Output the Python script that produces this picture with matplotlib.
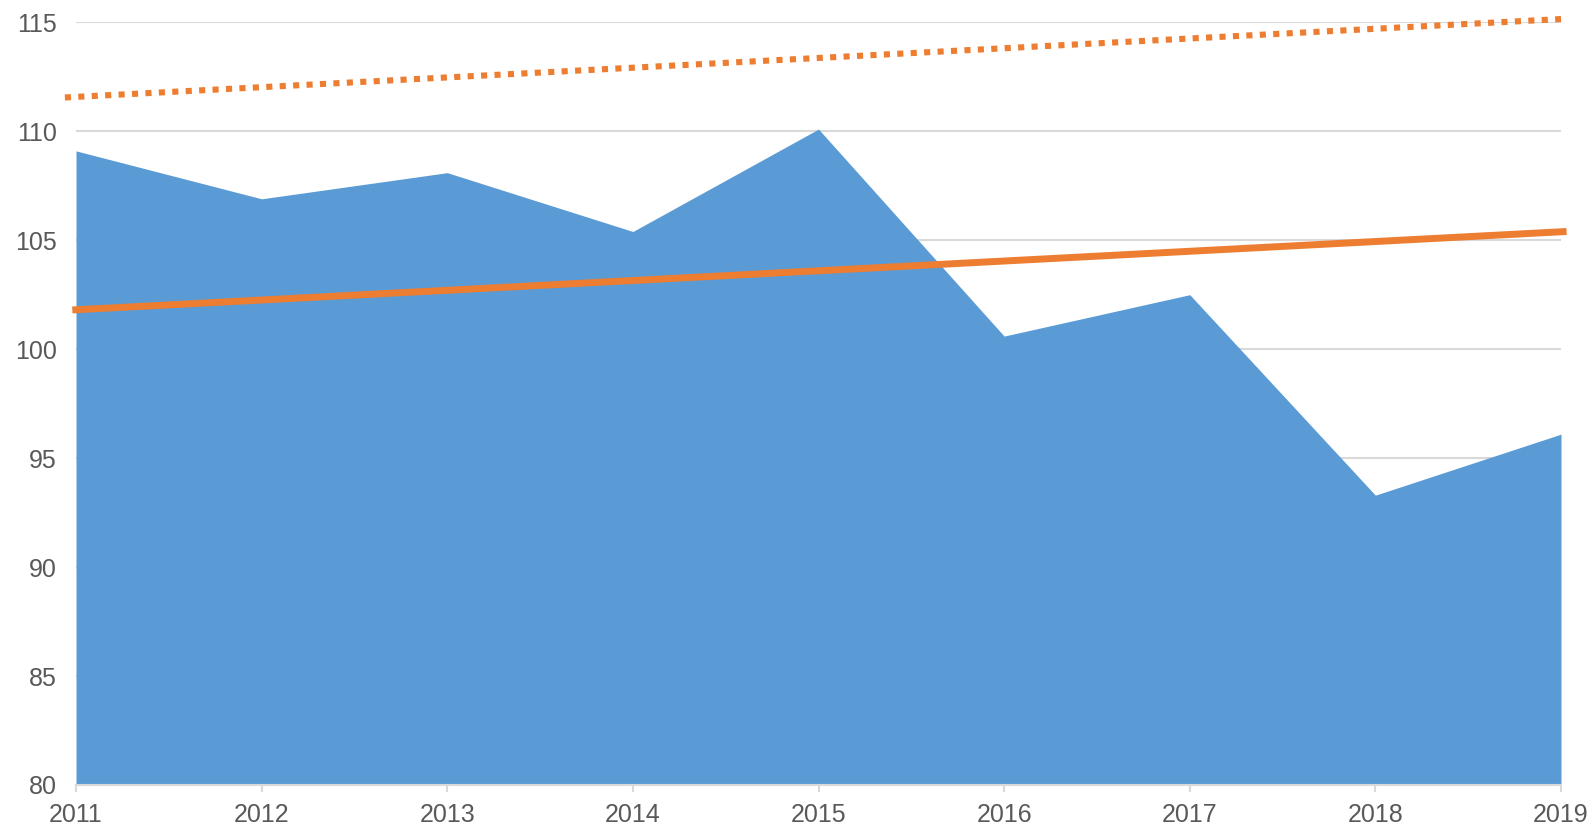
import matplotlib
matplotlib.use("Agg")
import matplotlib.pyplot as plt

years = [2011, 2012, 2013, 2014, 2015, 2016, 2017, 2018, 2019]
values = [109.1, 106.9, 108.1, 105.4, 110.1, 100.6, 102.5, 93.3, 96.1]

trend_x = [2010.98, 2019.03]
trend_y = [101.8, 105.4]
upper_x = [2010.94, 2019.0]
upper_y = [111.55, 115.15]

yticks = [80, 85, 90, 95, 100, 105, 110, 115]

plt.rcParams['font.family'] = ['Liberation Sans', 'DejaVu Sans']

fig = plt.figure(figsize=(15.93, 8.27), dpi=100)
ax = fig.add_axes([76/1593, 1-785/827, (1561-76)/1593, (785-22.3)/827])

blue = '#5b9bd5'
orange = '#ed7d31'
grid = '#d9d9d9'
txt = '#595959'

ax.fill_between(years, values, 80, color=blue, linewidth=0, zorder=2)
ax.plot(trend_x, trend_y, color=orange, linewidth=5, solid_capstyle='butt', zorder=3, clip_on=False)
ax.plot(upper_x, upper_y, color=orange, linewidth=4.4, linestyle=(0, (1, 1.2)),
        dash_capstyle='butt', zorder=3, clip_on=False)

ax.set_xlim(2011, 2019)
ax.set_ylim(80, 115)
ax.set_yticks(yticks)
ax.set_xticks(years)
ax.set_xticklabels([str(y) for y in years])

for y in yticks[1:]:
    ax.axhline(y, color=grid, linewidth=1.5, zorder=1)

for s in ['top', 'right', 'left']:
    ax.spines[s].set_visible(False)
ax.spines['bottom'].set_color(grid)
ax.spines['bottom'].set_linewidth(1.5)
ax.spines['bottom'].set_zorder(4)

ax.tick_params(axis='y', length=0, pad=14, labelsize=18, labelcolor=txt)
ax.tick_params(axis='x', length=5, width=1.5, color=grid, pad=8, labelsize=18, labelcolor=txt, direction='out')

fig.savefig('out.png', dpi=100)
